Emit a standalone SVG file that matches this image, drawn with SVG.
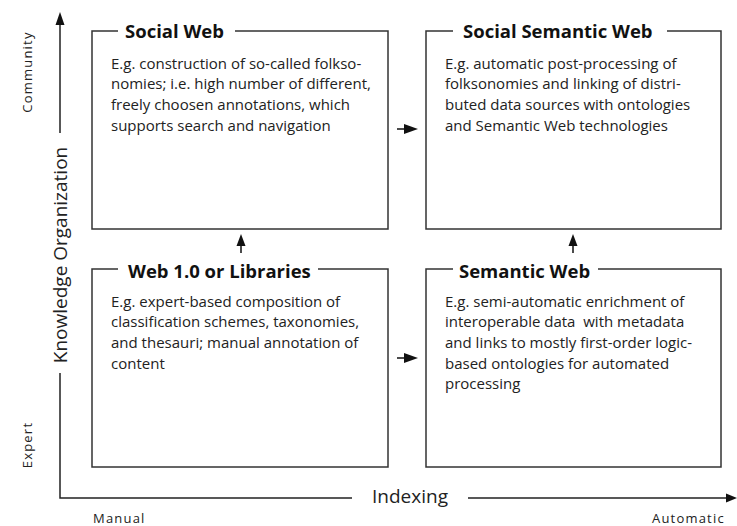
<svg xmlns="http://www.w3.org/2000/svg" width="737" height="526" viewBox="0 0 737 526">
<defs>
<style>
.box{fill:none;stroke:#333;stroke-width:1.5}
.gap{fill:#fff;stroke:none}
.title{font-family:"Open Sans","Liberation Sans",sans-serif;font-weight:bold;font-size:18.5px;fill:#111}
.body{font-family:"Open Sans","Liberation Sans",sans-serif;font-size:15px;fill:#222}
.axis{fill:none;stroke:#222;stroke-width:1.5}
.axlabel{font-family:"Open Sans","Liberation Sans",sans-serif;font-size:19px;fill:#222}
.small{font-family:"Open Sans","Liberation Sans",sans-serif;font-size:13px;fill:#222;letter-spacing:1.2px}
.head{fill:#111;stroke:none}
.conn{stroke:#111;stroke-width:1.5;fill:none}
</style>
</defs>
<rect width="737" height="526" fill="#fff"/>

<g id="axes">
<path class="axis" d="M60,25 V133 M60,373 V498 H352 M468,498 H727"/>
<polygon class="head" points="60,12 55.5,25 64.5,25"/>
<polygon class="head" points="737,498 726,493.5 726,502.5"/>
<text class="axlabel" transform="translate(67,255) rotate(-90)" text-anchor="middle">Knowledge Organization</text>
<text class="axlabel" x="372" y="503">Indexing</text>
<text class="small" transform="translate(32,72) rotate(-90)" text-anchor="middle">Community</text>
<text class="small" transform="translate(32,445) rotate(-90)" text-anchor="middle">Expert</text>
<text class="small" x="93" y="523">Manual</text>
<text class="small" x="652" y="523">Automatic</text>
</g>

<g id="social-web">
<rect class="box" x="92" y="31" width="296" height="198"/>
<rect class="gap" x="118" y="24" width="117" height="14"/>
<text class="title" x="125" y="38">Social Web</text>
<text class="body" x="111" y="68.5">E.g. construction of so-called folkso-</text>
<text class="body" x="111" y="89.2">nomies; i.e. high number of different,</text>
<text class="body" x="111" y="109.9">freely choosen annotations, which</text>
<text class="body" x="111" y="130.6">supports search and navigation</text>
</g>

<g id="social-semantic-web">
<rect class="box" x="426" y="31" width="295" height="198"/>
<rect class="gap" x="453" y="24" width="214" height="14"/>
<text class="title" x="463" y="38">Social Semantic Web</text>
<text class="body" x="445" y="68.5">E.g. automatic post-processing of</text>
<text class="body" x="445" y="89.2">folksonomies and linking of distri-</text>
<text class="body" x="445" y="109.9">buted data sources with ontologies</text>
<text class="body" x="445" y="130.6">and Semantic Web technologies</text>
</g>

<g id="web-1-0-or-libraries">
<rect class="box" x="92" y="269" width="296" height="198"/>
<rect class="gap" x="118" y="262" width="200" height="14"/>
<text class="title" x="128" y="278">Web 1.0 or Libraries</text>
<text class="body" x="111" y="306.5">E.g. expert-based composition of</text>
<text class="body" x="111" y="327.2">classification schemes, taxonomies,</text>
<text class="body" x="111" y="347.9">and thesauri; manual annotation of</text>
<text class="body" x="111" y="368.6">content</text>
</g>

<g id="semantic-web">
<rect class="box" x="426" y="269" width="295" height="198"/>
<rect class="gap" x="453" y="262" width="145" height="14"/>
<text class="title" x="459" y="278">Semantic Web</text>
<text class="body" x="445" y="306.5">E.g. semi-automatic enrichment of</text>
<text class="body" x="445" y="327.2" xml:space="preserve">interoperable data  with metadata</text>
<text class="body" x="445" y="347.9">and links to mostly first-order logic-</text>
<text class="body" x="445" y="368.6">based ontologies for automated</text>
<text class="body" x="445" y="389.3">processing</text>
</g>

<g id="connectors">
<line class="conn" x1="397" y1="129" x2="405" y2="129"/>
<polygon class="head" points="418,129 404,124 404,134"/>
<line class="conn" x1="397" y1="358" x2="405" y2="358"/>
<polygon class="head" points="418,358 404,353 404,363"/>
<line class="conn" x1="241" y1="253" x2="241" y2="245"/>
<polygon class="head" points="241,234 236.5,246 245.5,246"/>
<line class="conn" x1="573" y1="253" x2="573" y2="245"/>
<polygon class="head" points="573,234 568.5,246 577.5,246"/>
</g>
</svg>
